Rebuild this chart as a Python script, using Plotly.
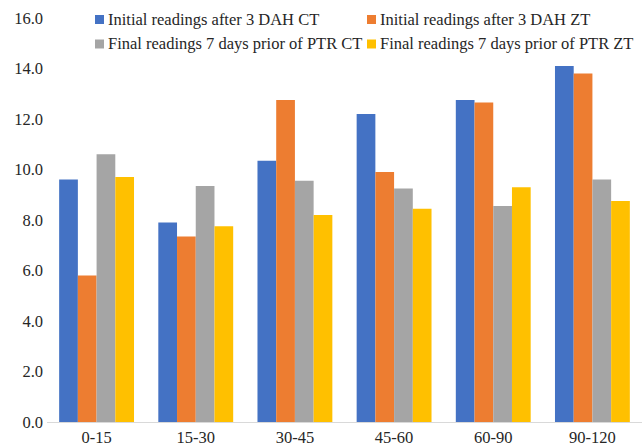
import plotly.graph_objects as go

categories = ["0-15", "15-30", "30-45", "45-60", "60-90", "90-120"]
initial_ct = [9.6, 7.9, 10.35, 12.2, 12.75, 14.1]
initial_zt = [5.8, 7.35, 12.75, 9.9, 12.65, 13.8]
final_ct = [10.6, 9.35, 9.55, 9.25, 8.55, 9.6]
final_zt = [9.7, 7.75, 8.2, 8.45, 9.3, 8.75]

series = [
    ("Initial readings after 3 DAH CT", initial_ct, "#4472C4"),
    ("Initial readings after 3 DAH ZT", initial_zt, "#ED7D31"),
    ("Final readings 7 days prior of PTR CT", final_ct, "#A5A5A5"),
    ("Final readings 7 days prior of PTR ZT", final_zt, "#FFC000"),
]

W, H = 642, 448
ML, MR, MT, MB = 47, 0, 18, 26
PW, PH = W - ML - MR, H - MT - MB

FONT = "'Times New Roman', 'Liberation Serif', 'DejaVu Serif', serif"
FONT_SIZE = 16.5
TEXT_COLOR = "#262626"

fig = go.Figure()
for name, vals, color in series:
    fig.add_trace(go.Bar(x=categories, y=vals, name=name, marker_color=color,
                         marker_line_width=0, showlegend=False))


def px_x(px):
    return (px - ML) / PW


def px_y(py):
    return (H - MB - py) / PH


# Two-column legend at the top of the plot area
legend_slots = [(95, 19.5), (367, 19.5), (95, 44), (367, 44)]
shapes, annotations = [], []
for (name, _, color), (lx, ly) in zip(series, legend_slots):
    shapes.append(dict(type="rect", xref="paper", yref="paper",
                       x0=px_x(lx), x1=px_x(lx + 9),
                       y0=px_y(ly + 4.5), y1=px_y(ly - 4.5),
                       fillcolor=color, line_width=0, layer="above"))
    annotations.append(dict(text=name, xref="paper", yref="paper",
                            x=px_x(lx + 11), y=px_y(ly), xanchor="left",
                            yanchor="middle", showarrow=False,
                            font=dict(family=FONT, size=FONT_SIZE, color=TEXT_COLOR)))

fig.update_layout(
    width=W, height=H,
    margin=dict(l=ML, r=MR, t=MT, b=MB),
    paper_bgcolor="white", plot_bgcolor="white",
    barmode="group", bargap=0.245, bargroupgap=0,
    font=dict(family=FONT, size=FONT_SIZE, color=TEXT_COLOR),
    showlegend=False,
    shapes=shapes, annotations=annotations,
    xaxis=dict(showline=True, linecolor="#D9D9D9", linewidth=1, ticks="",
               showgrid=False,
               tickfont=dict(family=FONT, size=FONT_SIZE, color=TEXT_COLOR)),
    yaxis=dict(range=[0, 16], dtick=2, tickformat=".1f", showgrid=False,
               zeroline=False, ticks="", ticklabelstandoff=3,
               tickfont=dict(family=FONT, size=FONT_SIZE, color=TEXT_COLOR)),
)

fig.write_html("out.html")
